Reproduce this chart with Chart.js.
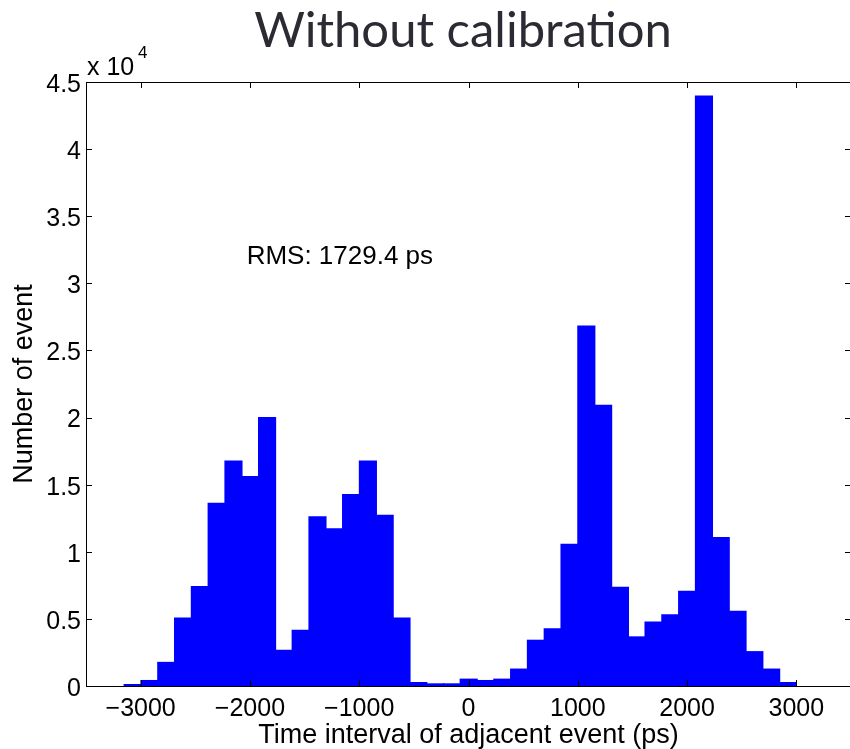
<!DOCTYPE html>
<html>
<head>
<meta charset="utf-8">
<script src="https://cdn.jsdelivr.net/npm/chart.js@4.4.1/dist/chart.umd.min.js"></script>
<style>
  html, body { margin: 0; padding: 0; background: #fff; overflow: hidden; }
  #wrap { width: 850px; height: 749px; overflow: hidden; }
  canvas { display: block; }
</style>
</head>
<body>
<div id="wrap"><canvas id="histChart" width="856" height="749"></canvas></div>
<script>
// histogram bins (centre of each bin, ps) and counts
const binCenters = [
  -3073.1, -2919.4, -2765.6, -2611.9, -2458.1, -2304.4, -2150.6, -1996.9, -1843.1, -1689.4,
  -1535.6, -1381.9, -1228.1, -1074.4, -920.6, -766.9, -613.1, -459.4, -305.6, -151.9,
  1.9, 155.6, 309.4, 463.1, 616.9, 770.6, 924.4, 1078.1, 1231.9, 1385.6,
  1539.4, 1693.1, 1846.9, 2000.6, 2154.4, 2308.1, 2461.9, 2615.6, 2769.4, 2923.1
];
const eventCounts = [
  150, 450, 1800, 5100, 7450, 13650, 16800, 15650, 20050, 2700,
  4200, 12650, 11750, 14300, 16800, 12750, 5100, 300, 200, 200,
  550, 450, 550, 1300, 3450, 4300, 10600, 26850, 20950, 7400,
  3700, 4800, 5350, 7100, 44000, 11100, 5600, 2600, 1300, 300
];
const xTicks = [-3000, -2000, -1000, 0, 1000, 2000, 3000];
const yTicks = [0, 5000, 10000, 15000, 20000, 25000, 30000, 35000, 40000, 45000];

const chartTitle = 'Without calibration';
const xLabel = 'Time interval of adjacent event (ps)';
const yLabel = 'Number of event';
const rmsText = 'RMS: 1729.4 ps';
const rmsAt = { x: -2030, y: 32000 };

Chart.defaults.font.family = '"Liberation Sans", Arial, Helvetica, sans-serif';
Chart.defaults.color = '#000';

// MATLAB style box with inward ticks, plus the extra texts
const matlabAxes = {
  id: 'matlabAxes',
  afterDatasetsDraw(chart) {
    const { ctx, chartArea: a, scales: { x, y } } = chart;
    const tl = 6;
    ctx.save();
    ctx.strokeStyle = '#000';
    ctx.lineWidth = 1;
    ctx.beginPath();
    xTicks.forEach(v => {
      const px = Math.round(x.getPixelForValue(v)) + 0.5;
      ctx.moveTo(px, a.bottom); ctx.lineTo(px, a.bottom - tl);
      ctx.moveTo(px, a.top); ctx.lineTo(px, a.top + tl);
    });
    yTicks.forEach(v => {
      const py = Math.round(y.getPixelForValue(v)) + 0.5;
      ctx.moveTo(a.left, py); ctx.lineTo(a.left + tl, py);
      ctx.moveTo(a.right, py); ctx.lineTo(a.right - tl, py);
    });
    ctx.stroke();
    ctx.strokeRect(a.left + 0.5, a.top + 0.5, a.right - a.left, a.bottom - a.top);
    ctx.restore();
  },
  afterDraw(chart) {
    const { ctx, chartArea: a, scales: { x, y } } = chart;
    ctx.save();
    ctx.fillStyle = '#000';
    ctx.textBaseline = 'alphabetic';

    // exponent label
    ctx.textAlign = 'left';
    ctx.font = '25px "Liberation Sans", Arial, sans-serif';
    ctx.fillText('x 10', a.left + 1, 75);
    ctx.font = '17px "Liberation Sans", Arial, sans-serif';
    ctx.fillText('4', a.left + 52, 58);

    // rms annotation
    ctx.font = '26px "Liberation Sans", Arial, sans-serif';
    ctx.textBaseline = 'middle';
    ctx.fillText(rmsText, x.getPixelForValue(rmsAt.x), y.getPixelForValue(rmsAt.y));

    // title
    ctx.fillStyle = '#2b2b33';
    ctx.textAlign = 'center';
    ctx.textBaseline = 'alphabetic';
    ctx.font = '400 49px Lato, "Open Sans", sans-serif';
    ctx.fillText(chartTitle, 463, 47);
    ctx.restore();
  }
};

new Chart(document.getElementById('histChart'), {
  type: 'bar',
  data: {
    datasets: [{
      data: binCenters.map((c, i) => ({ x: c, y: eventCounts[i] })),
      backgroundColor: '#0000ff',
      borderWidth: 0,
      barPercentage: 1.08,
      categoryPercentage: 1
    }]
  },
  options: {
    responsive: false,
    animation: false,
    devicePixelRatio: 1,
    layout: { padding: { top: 82, left: 0, right: 5, bottom: 0 } },
    plugins: { legend: { display: false }, tooltip: { enabled: false } },
    scales: {
      x: {
        type: 'linear',
        min: -3500,
        max: 3500,
        offset: false,
        grid: { display: false, drawTicks: false, offset: false },
        border: { display: false },
        afterBuildTicks: s => { s.ticks = xTicks.map(v => ({ value: v })); },
        afterFit: s => { s.height = 63; },
        ticks: {
          padding: 8,
          maxRotation: 0,
          font: { size: 25 },
          callback: v => String(v).replace('-', '\u2212')
        },
        title: {
          display: true,
          text: xLabel,
          font: { size: 27, lineHeight: 1 },
          padding: { top: 0, bottom: 0 }
        }
      },
      y: {
        min: 0,
        max: 45000,
        grid: { display: false, drawTicks: false },
        border: { display: false },
        afterBuildTicks: s => { s.ticks = yTicks.map(v => ({ value: v })); },
        afterFit: s => { s.width = 86; },
        ticks: {
          padding: 5,
          labelOffset: 3,
          font: { size: 25 },
          callback: v => String(v / 10000)
        },
        title: {
          display: true,
          text: yLabel,
          font: { size: 27 },
          padding: { top: 8, bottom: 0 }
        }
      }
    }
  },
  plugins: [matlabAxes]
});
</script>
</body>
</html>
